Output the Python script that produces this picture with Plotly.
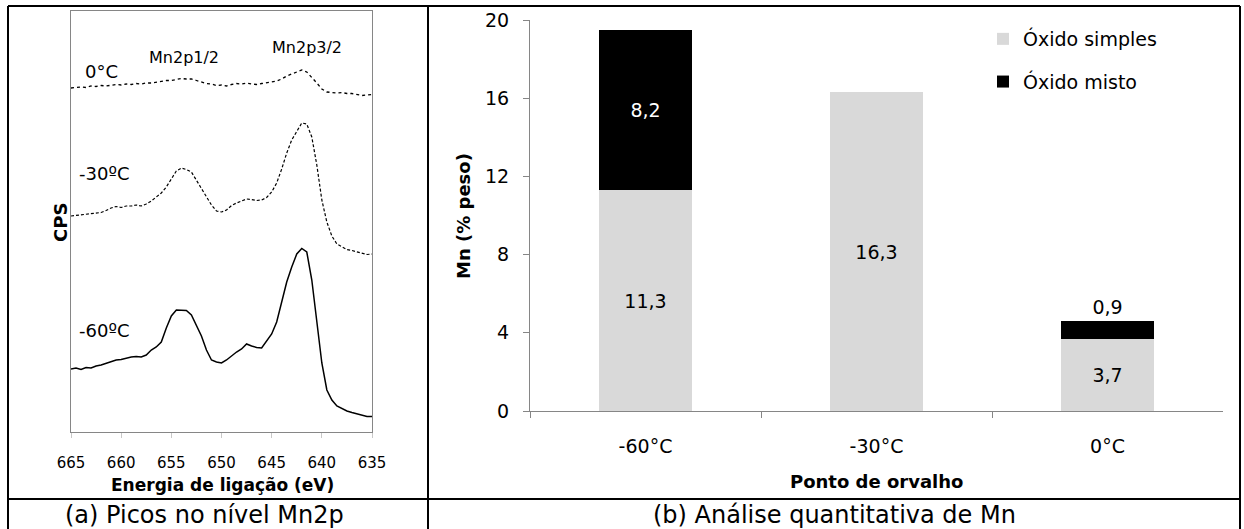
import plotly.graph_objects as go

# ---------------- data: left panel (XPS Mn2p spectra, arbitrary CPS units) ----------------
energy = [665, 664.5, 664, 663.5, 663, 662.5, 662, 661.5, 661, 660.5, 660, 659.5, 659, 658.5, 658,
          657.5, 657, 656.5, 656, 655.5, 655, 654.5, 654, 653.5, 653, 652.5, 652, 651.5, 651, 650.5,
          650, 649.5, 649, 648.5, 648, 647.5, 647, 646.5, 646, 645.5, 645, 644.5, 644, 643.5, 643,
          642.5, 642, 641.5, 641, 640.5, 640, 639.5, 639, 638.5, 638, 637.5, 637, 636.5, 636, 635.5, 635]

cps_0C = [344, 344.5, 345, 344.5, 346, 345.5, 346.5, 346, 347, 347.5, 347, 348, 347.5, 348.5, 348,
          349, 349, 350, 350.5, 351.5, 351.5, 352.5, 353.5, 353, 353, 351.5, 350, 348.5, 348, 346.5,
          347, 346, 347.5, 348.5, 348, 349, 348, 347.5, 348.5, 349, 350, 351, 353, 356, 358,
          360, 362, 360, 355, 349, 343, 340, 339.5, 339, 339.5, 338.5, 338.5, 337.5, 336.5, 337, 337.5]

cps_m30C = [216, 216.5, 217, 217.5, 218, 218.5, 219.5, 221.5, 224, 225.5, 224.5, 226, 226, 227, 226,
            228, 231, 235, 239, 245, 253, 261, 264, 262.5, 260, 252, 243, 235, 227, 221,
            220, 222, 226.5, 229, 231, 233, 232.5, 231.5, 232, 234.5, 240, 249, 263, 279, 292,
            300, 309, 308, 295, 267, 232, 210, 196, 188, 185, 182.5, 181.5, 180, 178.5, 177.5, 178]

cps_m60C = [63, 64, 62.5, 64.5, 64, 66, 67, 68.5, 70, 72, 72.5, 74, 75, 75.5, 75,
            77, 82, 85, 90, 104, 116, 122, 122, 121.5, 117, 107, 96, 82, 72, 70,
            69, 72, 76, 80, 83, 88, 86, 84.5, 84, 91, 98, 110, 130, 150, 165,
            178, 183.5, 180, 152, 112, 69, 42, 32, 26, 23.5, 21, 19.5, 18, 17, 15.5, 15.5]

energy_ticks = [665, 660, 655, 650, 645, 640, 635]

# ---------------- data: right panel (stacked bars) ----------------
categories = ["-60°C", "-30°C", "0°C"]
oxido_simples = [11.3, 16.3, 3.7]
oxido_misto = [8.2, 0, 0.9]
y_ticks = [0, 4, 8, 12, 16, 20]

FONT = "DejaVu Sans"
W, H = 1244, 529


def px_x(p):
    return p / W


def px_y(p):
    return 1 - p / H


def fmt(v):
    return ("%.1f" % v).replace(".", ",") if v else ""


fig = go.Figure()

# left panel curves
fig.add_trace(go.Scatter(x=energy, y=cps_0C, mode="lines", xaxis="x", yaxis="y",
                         line=dict(color="black", width=1.3, dash="dot"), showlegend=False))
fig.add_trace(go.Scatter(x=energy, y=cps_m30C, mode="lines", xaxis="x", yaxis="y",
                         line=dict(color="black", width=1.2, dash="3px,2px"), showlegend=False))
fig.add_trace(go.Scatter(x=energy, y=cps_m60C, mode="lines", xaxis="x", yaxis="y",
                         line=dict(color="black", width=1.5), showlegend=False))

# right panel bars
fig.add_trace(go.Bar(x=categories, y=oxido_simples, name="Óxido simples", xaxis="x2", yaxis="y2",
                     marker=dict(color="#d9d9d9", line=dict(width=0)), width=0.4,
                     text=[fmt(v) for v in oxido_simples], textposition="inside",
                     insidetextanchor="middle", textangle=0,
                     textfont=dict(family=FONT, size=19, color="black"),
                     legendgroup="a"))
fig.add_trace(go.Bar(x=categories, y=oxido_misto, name="Óxido misto", xaxis="x2", yaxis="y2",
                     marker=dict(color="black", line=dict(width=0)), width=0.4,
                     text=[fmt(v) for v in oxido_misto],
                     textposition=["inside", "none", "outside"],
                     insidetextanchor="middle", textangle=0,
                     insidetextfont=dict(family=FONT, size=19, color="white"),
                     outsidetextfont=dict(family=FONT, size=19, color="black"),
                     cliponaxis=False, legendgroup="b"))

axis_gray = "#868686"

fig.update_layout(
    template="none",
    width=W, height=H, autosize=False,
    margin=dict(l=0, r=0, t=0, b=0, pad=0, autoexpand=False),
    paper_bgcolor="white", plot_bgcolor="white",
    font=dict(family=FONT, color="black"),
    barmode="stack",
    xaxis=dict(domain=[px_x(71), px_x(372)], range=[665, 635], tickvals=energy_ticks,
               ticks="outside", ticklen=5, tickcolor="#c8c8c8", showline=True, linecolor=axis_gray,
               mirror=True, showgrid=False, zeroline=False, ticklabelstandoff=12, automargin=False,
               tickfont=dict(family=FONT, size=15, color="black")),
    yaxis=dict(domain=[px_y(432), px_y(11)], range=[0, 421], showticklabels=False, ticks="",
               showline=True, linecolor=axis_gray, mirror=True, showgrid=False, zeroline=False,
               automargin=False),
    xaxis2=dict(domain=[px_x(530), px_x(1223)], type="category", tickson="boundaries",
                ticks="outside", ticklen=6, tickcolor=axis_gray, showline=True, linecolor=axis_gray,
                showgrid=False, zeroline=False, ticklabelstandoff=18, anchor="y2", automargin=False,
                tickfont=dict(family=FONT, size=19, color="black")),
    yaxis2=dict(domain=[px_y(411), px_y(20)], range=[0, 20], tickvals=y_ticks, anchor="x2",
                ticks="outside", ticklen=6, tickcolor=axis_gray, showline=True, linecolor=axis_gray,
                showgrid=False, zeroline=False, ticklabelstandoff=10, automargin=False,
                tickfont=dict(family=FONT, size=19, color="black")),
    legend=dict(x=px_x(983), y=px_y(20), xanchor="left", yanchor="top",
                traceorder="grouped", tracegroupgap=15, bgcolor="rgba(0,0,0,0)", borderwidth=0,
                font=dict(family=FONT, size=19, color="black")),
)

# curve labels on left panel
ann = [
    dict(x=663.8, y=360, text="0°C", xanchor="left", font_size=18),
    dict(x=664.4, y=259, text="-30ºC", xanchor="left", font_size=18),
    dict(x=664.4, y=102, text="-60ºC", xanchor="left", font_size=18),
    dict(x=653.7, y=374, text="Mn2p1/2", xanchor="center", font_size=16),
    dict(x=641.5, y=384, text="Mn2p3/2", xanchor="center", font_size=16),
]
for a in ann:
    fig.add_annotation(x=a["x"], y=a["y"], xref="x", yref="y", text=a["text"], showarrow=False,
                       xanchor=a["xanchor"], yanchor="middle",
                       font=dict(family=FONT, size=a["font_size"], color="black"))

# axis titles and captions (paper coords)
paper_text = [
    (px_x(222), px_y(485), "<b>Energia de ligação (eV)</b>", 17, 0),
    (px_x(60), px_y(222), "<b>CPS</b>", 18, -90),
    (px_x(876), px_y(481), "<b>Ponto de orvalho</b>", 18, 0),
    (px_x(463), px_y(216), "<b>Mn (% peso)</b>", 18, -90),
    (px_x(204), px_y(515), "(a) Picos no nível Mn2p", 24, 0),
    (px_x(834), px_y(515), "(b) Análise quantitativa de Mn", 24, 0),
]
for x, y, t, s, ang in paper_text:
    fig.add_annotation(x=x, y=y, xref="paper", yref="paper", text=t, showarrow=False,
                       xanchor="center", yanchor="middle", textangle=ang,
                       font=dict(family=FONT, size=s, color="black"))

# table borders
lines = [
    (8, 6, 1240, 6), (8, 6, 8, 529), (1240, 6, 1240, 529), (428, 6, 428, 529), (8, 499, 1240, 499),
]
for x0, y0, x1, y1 in lines:
    fig.add_shape(type="line", xref="paper", yref="paper",
                  x0=px_x(x0), y0=px_y(y0), x1=px_x(x1), y1=px_y(y1),
                  line=dict(color="black", width=2))

fig.write_html("out.html", config={"displayModeBar": False, "staticPlot": True},
               post_script="document.body.style.margin='0px';document.body.style.overflow='hidden';")
